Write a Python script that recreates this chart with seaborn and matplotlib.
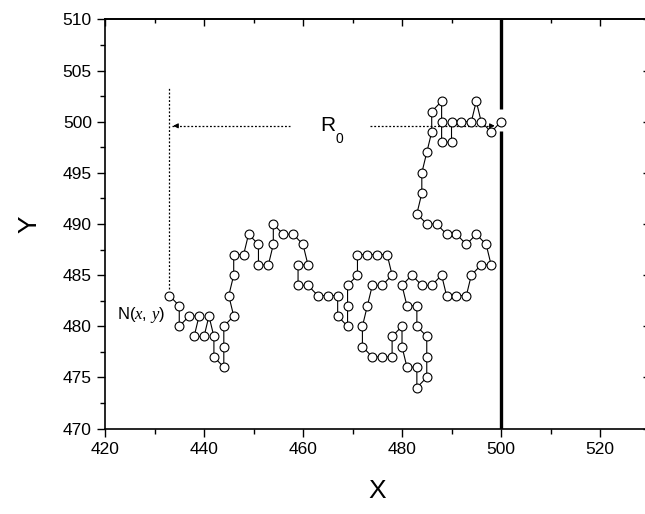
import matplotlib
matplotlib.use('Agg')
import matplotlib.pyplot as plt
import seaborn as sns
import pandas as pd
from matplotlib.ticker import MultipleLocator

# path of the walk, in order from N(x, y) to the end point on the wall
x_vals = [433, 435, 435, 437, 439, 438, 440, 441, 442, 442, 444, 444, 444, 446, 445, 446, 446, 448,
          449, 451, 451, 453, 454, 454, 456, 458, 460, 461, 459, 459, 461, 463, 465, 467, 467, 469,
          469, 469, 471, 471, 473, 475, 477, 478, 476, 474, 473, 472, 472, 474, 476, 478, 478, 480,
          480, 481, 483, 483, 485, 485, 485, 483, 483, 481, 480, 482, 484, 486, 488, 489, 491, 493,
          494, 496, 498, 497, 495, 493, 491, 489, 487, 485, 483, 484, 484, 485, 486, 486, 488, 488,
          488, 490, 490, 492, 494, 495, 496, 498, 500]
y_vals = [483, 482, 480, 481, 481, 479, 479, 481, 479, 477, 476, 478, 480, 481, 483, 485, 487, 487,
          489, 488, 486, 486, 488, 490, 489, 489, 488, 486, 486, 484, 484, 483, 483, 483, 481, 480,
          482, 484, 485, 487, 487, 487, 487, 485, 484, 484, 482, 480, 478, 477, 477, 477, 479, 480,
          478, 476, 476, 474, 475, 477, 479, 480, 482, 482, 484, 485, 484, 484, 485, 483, 483, 483,
          485, 486, 486, 488, 489, 488, 489, 489, 490, 490, 491, 493, 495, 497, 499, 501, 502, 500,
          498, 498, 500, 500, 500, 502, 500, 499, 500]

x_ticks = [420, 440, 460, 480, 500, 520]
y_ticks = [470, 475, 480, 485, 490, 495, 500, 505, 510]
wall_x = 500
wall_gap = (499.1, 501.2)
r0_level = 499.6

sns.set_theme(style='ticks')
plt.rcParams['font.family'] = ['Liberation Sans', 'DejaVu Sans']
plt.rcParams['mathtext.fontset'] = 'custom'
plt.rcParams['mathtext.it'] = 'Liberation Serif:italic'
plt.rcParams['mathtext.rm'] = 'Liberation Serif'
plt.rcParams['text.color'] = 'black'
plt.rcParams['axes.labelcolor'] = 'black'
plt.rcParams['xtick.color'] = 'black'
plt.rcParams['ytick.color'] = 'black'

fig = plt.figure(figsize=(6.45, 5.14), dpi=100)
ax = fig.add_axes([0.1628, 0.1663, 0.8442, 0.7958])

df = pd.DataFrame({'x': x_vals, 'y': y_vals})
sns.lineplot(data=df, x='x', y='y', sort=False, estimator=None, color='black', lw=0.8,
             marker='o', markersize=6.4, markerfacecolor='white', markeredgecolor='black',
             markeredgewidth=0.8, ax=ax, zorder=3)

# wall
ax.plot([wall_x, wall_x], [470, wall_gap[0]], color='black', lw=2.4, solid_capstyle='butt', zorder=2)
ax.plot([wall_x, wall_x], [wall_gap[1], 510], color='black', lw=2.4, solid_capstyle='butt', zorder=2)

# dotted guides
ax.plot([x_vals[0], x_vals[0]], [483.6, 503.4], color='black', lw=0.9, ls=(0, (1.5, 1.5)), zorder=2)
ax.plot([433.6, 457.4], [r0_level, r0_level], color='black', lw=0.9, ls=(0, (1.5, 1.5)), zorder=2)
ax.annotate('', xy=(433.2, r0_level), xytext=(435.0, r0_level),
            arrowprops=dict(arrowstyle='-|>', color='black', lw=0.8, mutation_scale=7))
ax.plot([473.5, 498.0], [r0_level, r0_level], color='black', lw=0.9, ls=(0, (1.5, 1.5)), zorder=2)
ax.annotate('', xy=(499.3, r0_level), xytext=(497.5, r0_level),
            arrowprops=dict(arrowstyle='-|>', color='black', lw=0.8, mutation_scale=7), zorder=4)

ax.text(463.4, r0_level, 'R', fontsize=15, ha='left', va='center')
ax.text(466.6, 498.3, '0', fontsize=10, ha='left', va='center')
ax.text(432.2, 481.1, r'N($x$, $y$)', fontsize=12, ha='right', va='center')

ax.set_xlim(420, 530)
ax.set_ylim(470, 510)
ax.set_xticks(x_ticks)
ax.set_yticks(y_ticks)
ax.xaxis.set_minor_locator(MultipleLocator(10))
ax.yaxis.set_minor_locator(MultipleLocator(2.5))
ax.tick_params(which='major', direction='out', length=6, width=1.0, labelsize=12.5,
               color='black', labelcolor='black')
ax.tick_params(which='minor', direction='out', length=3.5, width=1.0, color='black')
ax.set_xlabel('X', fontsize=19, labelpad=16, color='black')
ax.set_ylabel('Y', fontsize=19, labelpad=15, color='black')

for side in ['top', 'right']:
    sec = ax.secondary_xaxis('top') if side == 'top' else ax.secondary_yaxis('right')
    if side == 'top':
        sec.set_xticks(x_ticks)
        sec.xaxis.set_minor_locator(MultipleLocator(10))
        sec.tick_params(labeltop=False)
    else:
        sec.set_yticks(y_ticks)
        sec.yaxis.set_minor_locator(MultipleLocator(2.5))
        sec.tick_params(labelright=False)
    sec.tick_params(which='major', direction='in', length=5, width=1.0, color='black')
    sec.tick_params(which='minor', direction='in', length=3, width=1.0, color='black')
    for s in sec.spines.values():
        s.set_linewidth(1.2)
        s.set_color('black')

for s in ax.spines.values():
    s.set_linewidth(1.2)
    s.set_color('black')
    s.set_visible(True)

fig.savefig('out.png', dpi=100)
